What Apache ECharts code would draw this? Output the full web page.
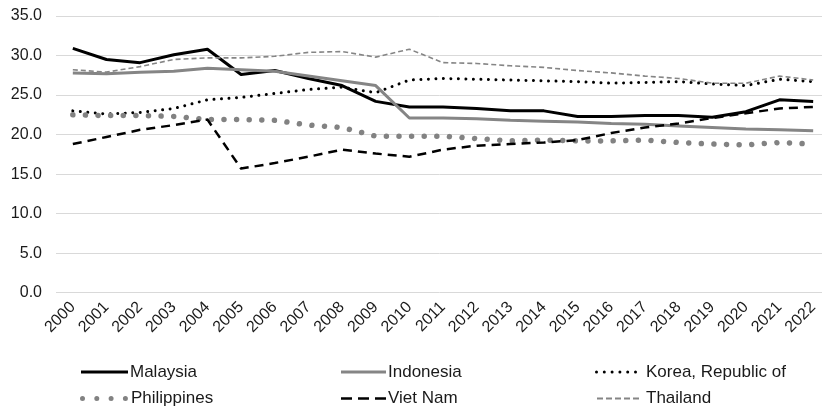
<!DOCTYPE html>
<html><head><meta charset="utf-8">
<script src="https://cdn.jsdelivr.net/npm/echarts@6/dist/echarts.min.js"></script>
<style>html,body{margin:0;padding:0;background:#fff}#c{width:822px;height:406px}</style>
</head><body><div id="c"></div>
<script>
const years = ['2000','2001','2002','2003','2004','2005','2006','2007','2008','2009','2010','2011','2012','2013','2014','2015','2016','2017','2018','2019','2020','2021','2022'];
const yTicks = [0,5,10,15,20,25,30,35];
const malaysia   = [30.9,29.5,29.1,30.1,30.8,27.6,28.1,27.1,26.2,24.2,23.5,23.5,23.3,23.0,23.0,22.3,22.3,22.4,22.4,22.2,22.9,24.4,24.2];
const indonesia  = [27.8,27.7,27.9,28.0,28.4,28.2,28.0,27.4,26.8,26.2,22.1,22.1,22.0,21.8,21.7,21.6,21.4,21.3,21.1,20.9,20.7,20.6,20.5];
const korea      = [23.0,22.6,22.8,23.3,24.4,24.7,25.2,25.7,26.0,25.3,26.9,27.1,27.0,26.9,26.8,26.7,26.5,26.6,26.7,26.4,26.2,27.0,26.7];
const philippines= [22.5,22.4,22.4,22.3,21.9,21.9,21.8,21.2,20.9,19.8,19.8,19.8,19.5,19.2,19.3,19.2,19.2,19.3,19.0,18.8,18.7,19.0,18.8];
const vietnam    = [18.8,19.7,20.6,21.2,21.9,15.7,16.4,17.2,18.1,17.6,17.2,18.1,18.6,18.8,19.0,19.3,20.2,20.9,21.4,22.1,22.7,23.3,23.5];
const thailand   = [28.2,27.9,28.6,29.5,29.7,29.7,29.9,30.4,30.5,29.8,30.8,29.1,29.0,28.7,28.5,28.1,27.8,27.4,27.1,26.5,26.5,27.4,26.9];
const names = ['Malaysia','Indonesia','Korea, Republic of','Philippines','Viet Nam','Thailand'];

const FONT = '"Liberation Sans", Arial, sans-serif';
const chart = echarts.init(document.getElementById('c'));
function ser(name, data, color, width, type, cap){
  return {name, type:'line', data, showSymbol:false, symbol:'none', animation:false,
    itemStyle:{color, borderWidth:0},
    lineStyle:{color, width, type, cap: cap||'butt', join:'round'}};
}
// legend icon shapes (drawn as small paths)
function dashes(n, len, gap, h){
  let p=''; for(let i=0;i<n;i++){const x=i*(len+gap); p+=`M${x},0L${x+len},0L${x+len},${h}L${x},${h}Z`;} return 'path://'+p;
}
function dots(n, r, step){
  let p=''; for(let i=0;i<n;i++){const cx=r+i*step; p+=`M${cx-r},${r}a${r},${r} 0 1,0 ${2*r},0a${r},${r} 0 1,0 ${-2*r},0Z`;} return 'path://'+p;
}
function leg(name, left, top, icon, w, h, tp){
  return {left, top, padding:0, itemWidth:w, itemHeight:h, icon, data:[name],
    itemStyle:{borderWidth:0}, lineStyle:{width:0},
    textStyle:{fontFamily:FONT, fontSize:17, lineHeight:18, color:'#1a1a1a', padding:[0,0,0,tp]}};
}
const r1 = 363, r2 = 389.5;
chart.setOption({
  animation:false,
  backgroundColor:'#fff',
  grid:{left:56, right:-8, top:16, bottom:113.3, containLabel:false, outerBoundsMode:'none'},
  legend:[
    leg(names[0], 81, r1, dashes(1,47,0,3), 47, 3, -3),
    leg(names[3], 80, r2, dots(4,2.5,14.3), 48, 5, -2),
    leg(names[1], 341, r1, dashes(1,45,0,3), 45, 3, -3),
    leg(names[4], 341, r2, dashes(3,11,6,2.5), 45, 2.5, -3),
    leg(names[2], 595, r1, dots(6,1.5,7.8), 42, 3, 4),
    leg(names[5], 597, r2, dashes(5,6,3,2), 42, 2, 2)
  ],
  xAxis:{type:'category', data:years, boundaryGap:true,
    axisLine:{show:false}, axisTick:{show:false},
    axisLabel:{rotate:45, margin:12, fontFamily:FONT, fontSize:16, color:'#1a1a1a', interval:0}},
  yAxis:{type:'value', min:yTicks[0], max:yTicks[yTicks.length-1], interval:5,
    axisLine:{show:false}, axisTick:{show:false},
    splitLine:{lineStyle:{color:'#d9d9d9', width:1}},
    axisLabel:{margin:14, fontFamily:FONT, fontSize:16, color:'#1a1a1a', formatter:v=>v.toFixed(1)}},
  series:[
    ser(names[0], malaysia, '#000000', 3, 'solid'),
    ser(names[1], indonesia, '#858585', 3, 'solid'),
    ser(names[2], korea, '#000000', 3, [0.01, 7.5], 'round'),
    ser(names[3], philippines, '#828282', 5.5, [0.01, 12.6], 'round'),
    ser(names[4], vietnam, '#000000', 2.5, [9, 6]),
    ser(names[5], thailand, '#858585', 1.6, [5, 3])
  ]
});
</script></body></html>
